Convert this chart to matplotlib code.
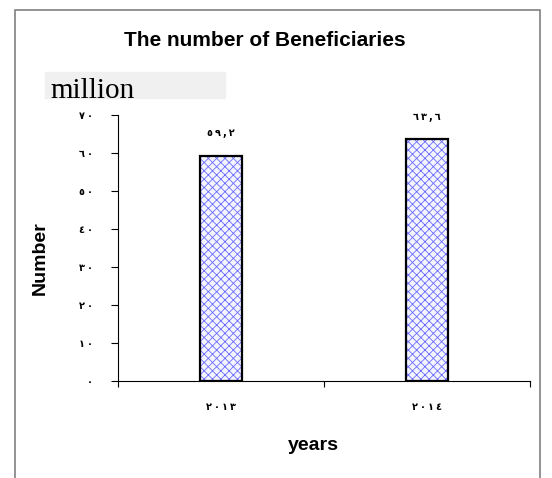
import matplotlib.pyplot as plt
from matplotlib.patches import Rectangle

# data
years = ['٢\u2009٠\u2009١\u2009٣', '٢\u2009٠\u2009١\u2009٤']
values = [59.2, 63.6]
value_labels = ['٥\u2009٩\u2009,\u2009٢', '٦\u2009٣\u2009,\u2009٦']
y_ticks = [0, 10, 20, 30, 40, 50, 60, 70]
y_tick_labels = ['٠', '١\u2009٠', '٢\u2009٠', '٣\u2009٠', '٤\u2009٠', '٥\u2009٠', '٦\u2009٠', '٧\u2009٠']

plt.rcParams['font.family'] = ['Liberation Sans', 'DejaVu Sans']
plt.rcParams['hatch.linewidth'] = 0.6

fig = plt.figure(figsize=(5.52, 4.78), dpi=100)
fig.patches.append(Rectangle((15 / 552, -0.1), 525 / 552, 1 - 10 / 478 + 0.1,
                             transform=fig.transFigure, fill=False,
                             edgecolor='#808080', linewidth=1.2))

ax = fig.add_axes([118 / 552, 1 - 381 / 478, 412 / 552, 266 / 478])
x = list(range(len(years)))

# hatch in blue, outline in black
ax.bar(x, values, width=0.2, color='#f4f4ff', edgecolor='#6a6aff', hatch='xxxx', linewidth=0)
ax.bar(x, values, width=0.2, fill=False, edgecolor='black', linewidth=1.6)

for xi, v, lab in zip(x, values, value_labels):
    ax.text(xi, v + 6, lab, ha='center', va='center', fontsize=7, fontweight='bold',
            family='DejaVu Sans')

ax.set_xlim(-0.5, 1.5)
ax.set_ylim(0, 70)
ax.set_yticks(y_ticks)
ax.set_yticklabels(y_tick_labels, fontsize=7, fontweight='bold', family='DejaVu Sans')
ax.set_xticks([-0.5, 0.5, 1.5])
ax.set_xticklabels([])
ax.set_xticks(x, minor=True)
ax.set_xticklabels(years, minor=True, fontsize=7, fontweight='bold', family='DejaVu Sans')
ax.tick_params(axis='x', which='minor', length=0, pad=15)
ax.tick_params(axis='x', which='major', length=4, direction='out')
ax.tick_params(axis='y', length=5, pad=13)

for s in ['top', 'right']:
    ax.spines[s].set_visible(False)

ax.set_ylabel('Number', fontsize=14, fontweight='heavy')
ax.yaxis.set_label_coords(-(118 - 49) / 412, (381 - 258) / 266)
ax.set_xlabel('years', fontsize=14, fontweight='bold')
ax.xaxis.set_label_coords((313 - 118) / 412, -(437 - 381) / 266)

fig.text(265 / 552, 1 - 40 / 478, 'The number of Beneficiaries', ha='center', va='center',
         fontsize=15, fontweight='bold')
box = Rectangle((45 / 552, 1 - 98 / 478), 180 / 552, 26 / 478,
                transform=fig.transFigure, color='#f0f0f0', zorder=0)
fig.patches.append(box)
t = fig.text(50 / 552, 1 - 97.5 / 478, 'million', ha='left', va='baseline', fontsize=21,
             family='Liberation Serif')
t.set_clip_path(box)

fig.savefig('out.png', dpi=100)
